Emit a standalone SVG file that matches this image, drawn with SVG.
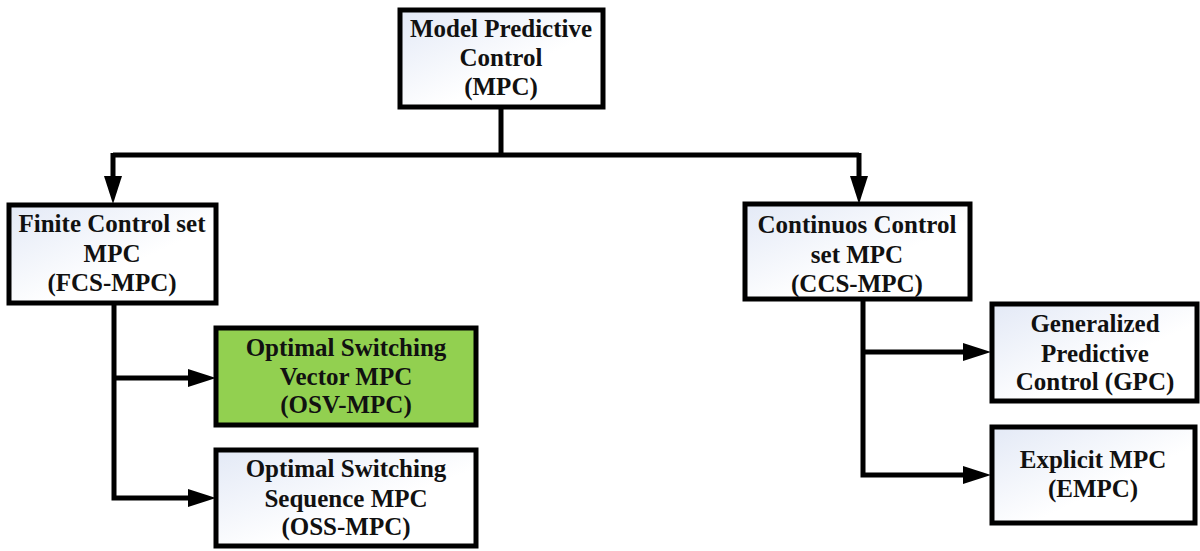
<svg xmlns="http://www.w3.org/2000/svg" width="1200" height="551" viewBox="0 0 1200 551">
<style>
.box{stroke:#000;stroke-width:5;fill:url(#g)}
.green{fill:#92d050}
.t{font-family:"Liberation Serif","Times New Roman",serif;font-weight:bold;font-size:25px;text-anchor:middle;fill:#111}
.c{stroke:#000;stroke-width:5;fill:none;stroke-linejoin:miter}
</style>
<defs>
<linearGradient id="g" x1="0" y1="0" x2="1" y2="1">
<stop offset="0" stop-color="#e3e9f6"/>
<stop offset="0.6" stop-color="#ffffff"/>
<stop offset="1" stop-color="#ffffff"/>
</linearGradient>
<marker id="a" markerUnits="userSpaceOnUse" markerWidth="28" markerHeight="18" refX="0" refY="9" orient="auto">
<path d="M0,0 L28,9 L0,18 Z" fill="#000"/>
</marker>
</defs>
<g id="connectors">
<path class="c" d="M501,108 V155"/>
<path class="c" d="M113,155 H859"/>
<path class="c" d="M113,153 V176" marker-end="url(#a)"/>
<path class="c" d="M859,153 V176" marker-end="url(#a)"/>
<path class="c" d="M114,305 V498 H188" marker-end="url(#a)"/>
<path class="c" d="M114,378 H188" marker-end="url(#a)"/>
<path class="c" d="M863,300 V475 H963" marker-end="url(#a)"/>
<path class="c" d="M863,352 H963" marker-end="url(#a)"/>
</g>
<g id="mpc">
<rect class="box" x="400" y="10" width="203" height="97"/>
<text class="t" x="501" y="37">Model Predictive</text>
<text class="t" x="501" y="66">Control</text>
<text class="t" x="501" y="95">(MPC)</text>
</g>
<g id="fcs">
<rect class="box" x="9" y="205" width="207" height="98"/>
<text class="t" x="112" y="232">Finite Control set</text>
<text class="t" x="112" y="262">MPC</text>
<text class="t" x="112" y="291">(FCS-MPC)</text>
</g>
<g id="osv">
<rect class="box green" x="216" y="328" width="260" height="97"/>
<text class="t" x="346" y="356">Optimal Switching</text>
<text class="t" x="346" y="385">Vector MPC</text>
<text class="t" x="346" y="413">(OSV-MPC)</text>
</g>
<g id="oss">
<rect class="box" x="216" y="450" width="260" height="96"/>
<text class="t" x="346" y="477">Optimal Switching</text>
<text class="t" x="346" y="507">Sequence MPC</text>
<text class="t" x="346" y="535">(OSS-MPC)</text>
</g>
<g id="ccs">
<rect class="box" x="745" y="204" width="225" height="95"/>
<text class="t" x="857" y="233">Continuos Control</text>
<text class="t" x="857" y="263">set MPC</text>
<text class="t" x="857" y="292">(CCS-MPC)</text>
</g>
<g id="gpc">
<rect class="box" x="992" y="304" width="205" height="97"/>
<text class="t" x="1095" y="332">Generalized</text>
<text class="t" x="1095" y="362">Predictive</text>
<text class="t" x="1095" y="390">Control (GPC)</text>
</g>
<g id="empc">
<rect class="box" x="992" y="427" width="203" height="96"/>
<text class="t" x="1093" y="468">Explicit MPC</text>
<text class="t" x="1093" y="497">(EMPC)</text>
</g>
</svg>
